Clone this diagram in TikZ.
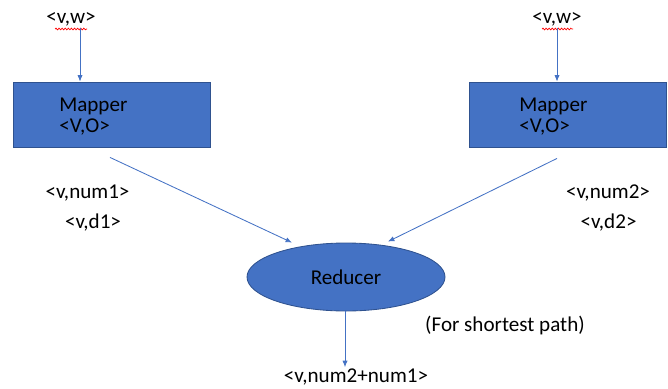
\documentclass[tikz,border=0pt]{standalone}
\usepackage{fontspec}
\setmainfont{Carlito}
\usepackage{xcolor}
\usetikzlibrary{arrows.meta,positioning,shapes.geometric,decorations.pathmorphing}
\definecolor{offblue}{HTML}{4472C4}
\definecolor{offedge}{HTML}{2F528F}

\begin{document}
\begin{tikzpicture}[
  x=0.025cm, y=-0.025cm,
  font=\fontsize{15}{15}\selectfont,
  txt/.style={inner sep=1pt, text=black},
  mapbox/.style={draw=offedge, fill=offblue, minimum width=197*0.025cm,
                 minimum height=65*0.025cm, line width=0.6pt},
  redu/.style={ellipse, draw=offedge, fill=offblue, minimum width=198*0.025cm,
               minimum height=68*0.025cm, line width=0.6pt},
  ar/.style={-{Latex[length=1.6mm,width=1.3mm]}, draw=offblue, line width=0.6pt},
  squig/.style={red, line width=0.5pt, decorate,
                decoration={snake, amplitude=0.6pt, segment length=2.2pt}}]
\useasboundingbox (0,0) rectangle (668,388);
% inputs
\node[txt] (inL) at (71,19) {<v,w>};
\node[txt] (inR) at (557,19) {<v,w>};
\draw[squig] ([shift={(-16,10)}]inL.center) -- ([shift={(16,10)}]inL.center);
\draw[squig] ([shift={(-15,10)}]inR.center) -- ([shift={(16,10)}]inR.center);
% mappers
\node[mapbox] (mapL) at (111.5,114.5) {};
\node[mapbox] (mapR) at (567.5,114.5) {};
\node[txt, align=left, anchor=west] (mapLt) at ([xshift=45*0.025cm, yshift=-2*0.025cm]mapL.west) {Mapper\\<V,O>};
\node[txt, align=left, anchor=west] (mapRt) at ([xshift=49*0.025cm, yshift=-2*0.025cm]mapR.west) {Mapper\\<V,O>};
% reducer
\node[redu] (red) at (346,277) {Reducer};
\node[txt] (out) at (356,377) {<v,num2+num1>};
\node[txt] (note) at (505,325) {(For shortest path)};
% intermediate pairs
\node[txt] (numL) at (87.5,193) {<v,num1>};
\node[txt] (dL) at (93,223) {<v,d1>};
\node[txt] (numR) at (608,193) {<v,num2>};
\node[txt] (dR) at (608.5,223) {<v,d2>};
% arrows
\draw[ar] ([xshift=9*0.025cm]inL.south) -- ([xshift=9*0.025cm]inL.south |- mapL.north);
\draw[ar] (inR.south) -- (inR.south |- mapR.north);
\draw[ar] ([shift={(-1.5,10)}]mapL.south) -- ([shift={(-54,0)}]red.north);
\draw[ar] ([shift={(-10.5,11)}]mapR.south) -- ([shift={(42,-1)}]red.north);
\draw[ar] ([xshift=-1*0.025cm]red.south) -- ([xshift=-1*0.025cm]red.south |- out.north);
\end{tikzpicture}
\end{document}
